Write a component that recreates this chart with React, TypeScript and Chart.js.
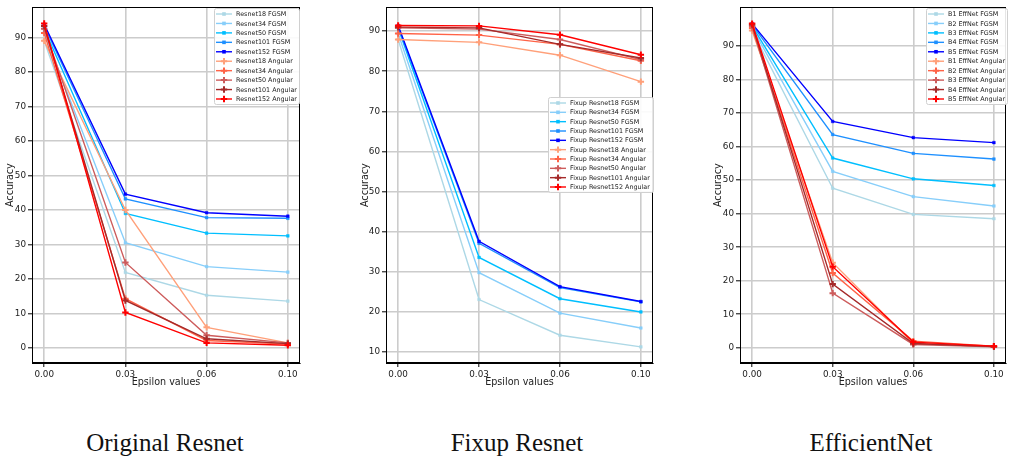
import React, { useEffect, useRef } from 'react';
import { Chart, registerables } from 'chart.js';

Chart.register(...registerables);

// ---------- shared ----------
const EPSILON_LABELS = ['0.00', '0.03', '0.06', '0.10'];
const FGSM_COLORS = ['#add8e6', '#87cefa', '#00bfff', '#1e90ff', '#0000ff'];
const ANGULAR_COLORS = ['#ffa07a', '#ff6347', '#cd5c5c', '#a52a2a', '#ff0000'];

// ---------- Original Resnet ----------
const RESNET_FGSM_LABELS = ['Resnet18 FGSM', 'Resnet34 FGSM', 'Resnet50 FGSM', 'Resnet101 FGSM', 'Resnet152 FGSM'];
const RESNET_ANGULAR_LABELS = ['Resnet18 Angular', 'Resnet34 Angular', 'Resnet50 Angular', 'Resnet101 Angular', 'Resnet152 Angular'];
const resnet18Fgsm = [89.0, 21.9, 15.3, 13.6];
const resnet34Fgsm = [91.3, 30.5, 23.6, 22.0];
const resnet50Fgsm = [92.5, 39.0, 33.3, 32.5];
const resnet101Fgsm = [93.3, 43.2, 37.8, 37.6];
const resnet152Fgsm = [93.8, 44.6, 39.2, 38.2];
const resnet18Angular = [89.0, 40.0, 6.0, 1.5];
const resnet34Angular = [91.3, 14.3, 2.2, 1.2];
const resnet50Angular = [92.5, 24.8, 3.7, 1.5];
const resnet101Angular = [93.3, 13.8, 2.7, 1.3];
const resnet152Angular = [94.0, 10.3, 1.5, 0.8];
const RESNET_Y_TICKS = [0, 10, 20, 30, 40, 50, 60, 70, 80, 90];

// ---------- Fixup Resnet ----------
const FIXUP_FGSM_LABELS = ['Fixup Resnet18 FGSM', 'Fixup Resnet34 FGSM', 'Fixup Resnet50 FGSM', 'Fixup Resnet101 FGSM', 'Fixup Resnet152 FGSM'];
const FIXUP_ANGULAR_LABELS = ['Fixup Resnet18 Angular', 'Fixup Resnet34 Angular', 'Fixup Resnet50 Angular', 'Fixup Resnet101 Angular', 'Fixup Resnet152 Angular'];
const fixup18Fgsm = [87.9, 23.1, 14.2, 11.3];
const fixup34Fgsm = [89.4, 29.8, 19.7, 16.0];
const fixup50Fgsm = [90.8, 33.6, 23.3, 20.0];
const fixup101Fgsm = [91.0, 37.1, 26.1, 22.5];
const fixup152Fgsm = [91.4, 37.6, 26.3, 22.6];
const fixup18Angular = [87.9, 87.2, 84.0, 77.4];
const fixup34Angular = [89.4, 89.0, 86.7, 82.6];
const fixup50Angular = [90.8, 90.5, 87.9, 82.9];
const fixup101Angular = [91.0, 90.8, 86.7, 83.3];
const fixup152Angular = [91.4, 91.3, 89.1, 84.1];
const FIXUP_Y_TICKS = [10, 20, 30, 40, 50, 60, 70, 80, 90];

// ---------- EfficientNet ----------
const EFF_FGSM_LABELS = ['B1 EffNet FGSM', 'B2 EffNet FGSM', 'B3 EffNet FGSM', 'B4 EffNet FGSM', 'B5 EffNet FGSM'];
const EFF_ANGULAR_LABELS = ['B1 EffNet Angular', 'B2 EffNet Angular', 'B3 EffNet Angular', 'B4 EffNet Angular', 'B5 EffNet Angular'];
const effB1Fgsm = [94.6, 47.6, 39.8, 38.5];
const effB2Fgsm = [95.4, 52.6, 45.1, 42.3];
const effB3Fgsm = [96.0, 56.6, 50.4, 48.4];
const effB4Fgsm = [96.4, 63.6, 58.0, 56.3];
const effB5Fgsm = [96.7, 67.5, 62.7, 61.2];
const effB1Angular = [94.6, 25.4, 1.3, 0.4];
const effB2Angular = [95.4, 22.3, 2.0, 0.5];
const effB3Angular = [96.0, 16.3, 1.0, 0.3];
const effB4Angular = [96.4, 19.0, 1.3, 0.4];
const effB5Angular = [96.7, 24.2, 1.7, 0.5];
const EFF_Y_TICKS = [0, 10, 20, 30, 40, 50, 60, 70, 80, 90];

const TICK_FONT = { family: 'DejaVu Sans', size: 8.8 };
const TITLE_FONT = { family: 'DejaVu Sans', size: 9.6 };
const LEGEND_FONT = '6.4px "DejaVu Sans"';

type PanelProps = {
  fgsmLabels: string[];
  angularLabels: string[];
  fgsm: number[][];
  angular: number[][];
  yMin: number;
  yMax: number;
  yTicks: number[];
  canvasLeft: number;
  plotLeft: number;
  plotRight: number;
  yTitlePad: number;
  legendBox: { left: number; top: number; width: number; height: number };
};

const CANVAS_H = 400;
const PLOT_TOP = 5;
const PLOT_BOTTOM = 363;

function drawMarker(ctx: CanvasRenderingContext2D, style: string, x: number, y: number, color: string) {
  ctx.save();
  if (style === 'rect') {
    ctx.fillStyle = color;
    ctx.fillRect(x - 1.8, y - 1.8, 3.6, 3.6);
  } else {
    ctx.strokeStyle = color;
    ctx.lineWidth = 2;
    ctx.beginPath();
    ctx.moveTo(x - 3.2, y);
    ctx.lineTo(x + 3.2, y);
    ctx.moveTo(x, y - 3.2);
    ctx.lineTo(x, y + 3.2);
    ctx.stroke();
  }
  ctx.restore();
}

function Panel(props: PanelProps) {
  const ref = useRef<HTMLCanvasElement>(null);
  const width = Math.ceil(props.plotRight - props.canvasLeft + 3);

  useEffect(() => {
    if (!ref.current) return;
    const mk = (vals: number[]) => vals.map((v, i) => ({ x: i, y: v }));
    const datasets: any[] = [];
    const total = props.fgsm.length + props.angular.length;
    props.fgsm.forEach((vals, i) => {
      datasets.push({
        label: props.fgsmLabels[i],
        data: mk(vals),
        borderColor: FGSM_COLORS[i],
        backgroundColor: FGSM_COLORS[i],
        pointBackgroundColor: FGSM_COLORS[i],
        pointBorderColor: FGSM_COLORS[i],
        borderWidth: 1.4,
        pointStyle: 'rect',
        pointRadius: 1.9,
        pointBorderWidth: 0.5,
        tension: 0,
        order: total - datasets.length,
      });
    });
    props.angular.forEach((vals, i) => {
      datasets.push({
        label: props.angularLabels[i],
        data: mk(vals),
        borderColor: ANGULAR_COLORS[i],
        backgroundColor: ANGULAR_COLORS[i],
        pointBackgroundColor: ANGULAR_COLORS[i],
        pointBorderColor: ANGULAR_COLORS[i],
        borderWidth: 1.4,
        pointStyle: 'cross',
        pointRadius: 3.2,
        pointBorderWidth: 2,
        tension: 0,
        order: total - datasets.length,
      });
    });

    const frame = {
      id: 'frame',
      afterDatasetsDraw(chart: any) {
        const { ctx, chartArea: a } = chart;
        ctx.save();
        ctx.strokeStyle = '#000';
        ctx.lineWidth = 1;
        ctx.strokeRect(Math.round(a.left) + 0.5, Math.round(a.top) + 0.5, Math.round(a.right - a.left) - 1, Math.round(a.bottom - a.top) - 1);
        ctx.restore();
      },
    };

    const box = props.legendBox;
    const legend = {
      id: 'boxLegend',
      afterDraw(chart: any) {
        const ctx = chart.ctx as CanvasRenderingContext2D;
        const bx = box.left - props.canvasLeft;
        const by = box.top;
        ctx.save();
        ctx.globalAlpha = 0.9;
        ctx.fillStyle = '#ffffff';
        ctx.strokeStyle = '#d0d0d0';
        ctx.lineWidth = 1;
        ctx.beginPath();
        (ctx as any).roundRect(bx + 0.5, by + 0.5, box.width, box.height, 2);
        ctx.fill();
        ctx.globalAlpha = 1;
        ctx.stroke();
        const ds = chart.data.datasets;
        const n = ds.length;
        const rowH = (box.height - 11) / (n - 1);
        ctx.font = LEGEND_FONT;
        ctx.textBaseline = 'middle';
        ctx.textAlign = 'left';
        ds.forEach((d: any, i: number) => {
          const y = by + 6 + i * rowH;
          ctx.strokeStyle = d.borderColor;
          ctx.lineWidth = 1.4;
          ctx.beginPath();
          ctx.moveTo(bx + 2, y);
          ctx.lineTo(bx + 18, y);
          ctx.stroke();
          drawMarker(ctx, d.pointStyle, bx + 10, y, d.borderColor);
          ctx.fillStyle = '#222';
          ctx.fillText(d.label, bx + 22, y + 0.5);
        });
        ctx.restore();
      },
    };

    const chart = new Chart(ref.current, {
      type: 'line',
      data: { datasets },
      plugins: [frame, legend],
      options: {
        animation: false,
        responsive: false,
        maintainAspectRatio: false,
        devicePixelRatio: 1,
        layout: { padding: { left: 0, right: width - (props.plotRight - props.canvasLeft), top: PLOT_TOP, bottom: 0 } },
        plugins: { legend: { display: false }, tooltip: { enabled: false } },
        scales: {
          x: {
            type: 'linear',
            min: -0.15,
            max: 3.15,
            afterBuildTicks: (s: any) => {
              s.ticks = EPSILON_LABELS.map((_, i) => ({ value: i }));
            },
            afterFit: (s: any) => {
              s.height = CANVAS_H - PLOT_BOTTOM;
            },
            ticks: {
              callback: (v: any) => EPSILON_LABELS[v as number],
              font: TICK_FONT,
              color: '#222',
              padding: 2,
              maxRotation: 0,
              autoSkip: false,
            },
            grid: {
              color: '#cccccc',
              lineWidth: 1.6,
              tickColor: '#000',
              tickWidth: 1,
              tickLength: 4,
            },
            border: { color: '#000', width: 1 },
            title: {
              display: true,
              text: 'Epsilon values',
              font: TITLE_FONT,
              color: '#222',
              padding: { top: 0, bottom: 12 },
            },
          },
          y: {
            type: 'linear',
            min: props.yMin,
            max: props.yMax,
            afterBuildTicks: (s: any) => {
              s.ticks = props.yTicks.map((v) => ({ value: v }));
            },
            afterFit: (s: any) => {
              s.width = props.plotLeft - props.canvasLeft;
            },
            ticks: {
              font: TICK_FONT,
              color: '#222',
              padding: 2,
            },
            grid: {
              color: '#cccccc',
              lineWidth: 1.6,
              tickColor: '#000',
              tickWidth: 1,
              tickLength: 4,
            },
            border: { color: '#000', width: 1 },
            title: {
              display: true,
              text: 'Accuracy',
              font: TITLE_FONT,
              color: '#222',
              padding: { top: props.yTitlePad, bottom: 0 },
            },
          },
        },
      } as any,
    });
    return () => chart.destroy();
  }, []);

  return (
    <canvas
      ref={ref}
      width={width}
      height={CANVAS_H}
      style={{ position: 'absolute', left: props.canvasLeft, top: 0, width, height: CANVAS_H }}
    />
  );
}

const captionStyle = (center: number): React.CSSProperties => ({
  position: 'absolute',
  left: center - 150,
  width: 300,
  top: 428,
  height: 30,
  lineHeight: '30px',
  textAlign: 'center',
  fontFamily: '"Liberation Serif", "DejaVu Serif", serif',
  fontSize: 25,
  color: '#111',
});

export default function App() {
  return (
    <div style={{ position: 'fixed', left: 0, top: 0, width: 1012, height: 459, background: '#fff', overflow: 'hidden' }}>
      <Panel
        fgsmLabels={RESNET_FGSM_LABELS}
        angularLabels={RESNET_ANGULAR_LABELS}
        fgsm={[resnet18Fgsm, resnet34Fgsm, resnet50Fgsm, resnet101Fgsm, resnet152Fgsm]}
        angular={[resnet18Angular, resnet34Angular, resnet50Angular, resnet101Angular, resnet152Angular]}
        yMin={-4.32}
        yMax={98.72}
        yTicks={RESNET_Y_TICKS}
        canvasLeft={0}
        plotLeft={32}
        plotRight={303}
        yTitlePad={5}
        legendBox={{ left: 214, top: 8, width: 85, height: 96 }}
      />
      <Panel
        fgsmLabels={FIXUP_FGSM_LABELS}
        angularLabels={FIXUP_ANGULAR_LABELS}
        fgsm={[fixup18Fgsm, fixup34Fgsm, fixup50Fgsm, fixup101Fgsm, fixup152Fgsm]}
        angular={[fixup18Angular, fixup34Angular, fixup50Angular, fixup101Angular, fixup152Angular]}
        yMin={7.28}
        yMax={95.94}
        yTicks={FIXUP_Y_TICKS}
        canvasLeft={354}
        plotLeft={386}
        plotRight={656}
        yTitlePad={5.5}
        legendBox={{ left: 548, top: 97, width: 105, height: 95 }}
      />
      <Panel
        fgsmLabels={EFF_FGSM_LABELS}
        angularLabels={EFF_ANGULAR_LABELS}
        fgsm={[effB1Fgsm, effB2Fgsm, effB3Fgsm, effB4Fgsm, effB5Fgsm]}
        angular={[effB1Angular, effB2Angular, effB3Angular, effB4Angular, effB5Angular]}
        yMin={-4.53}
        yMax={101.56}
        yTicks={EFF_Y_TICKS}
        canvasLeft={708}
        plotLeft={740}
        plotRight={1009}
        yTitlePad={5}
        legendBox={{ left: 926, top: 8, width: 81, height: 96 }}
      />
      <div style={captionStyle(165)}>Original Resnet</div>
      <div style={captionStyle(517)}>Fixup Resnet</div>
      <div style={captionStyle(871)}>EfficientNet</div>
    </div>
  );
}
